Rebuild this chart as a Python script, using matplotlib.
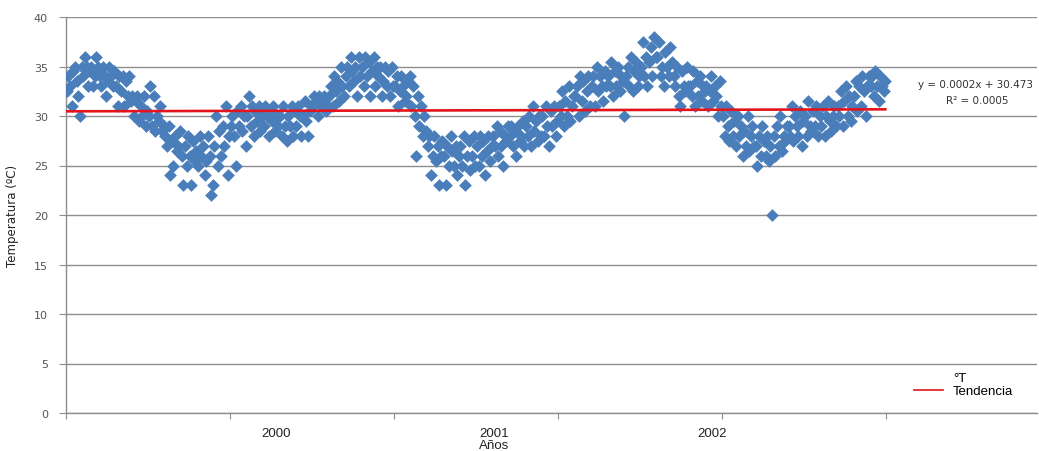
import numpy as np
import matplotlib
matplotlib.use("Agg")
import matplotlib.pyplot as plt
from matplotlib.lines import Line2D

# Daily temperature readings (one value every 2 days)
temp_1999 = [
    32.5, 34, 33, 31, 34.5, 35, 33.5, 32, 30, 35,
    34, 36, 35, 33, 34.5, 35, 33, 34, 36, 35,
    34, 33, 35, 34, 32, 33.5, 35, 34, 33, 34.5,
    33, 31, 34, 32.5, 34, 31, 33.5, 32, 34, 31.5,
    32, 30, 31.5, 32, 29.5, 31, 30, 32, 29, 30.5,
    30, 33, 29, 32, 28.5, 30, 29.5, 31, 28.5, 29,
    28, 27, 29, 24, 27.5, 25, 28, 26.5, 27, 28.5,
    26, 23, 27, 25, 28, 26, 23, 27.5, 25.5, 26.5,
    25, 28, 26, 27, 24, 25.5, 28, 26, 22, 23,
    27, 30, 25, 28.5, 26, 29, 27, 31, 24, 28,
    29, 30, 28, 25, 30.5, 29, 31, 28.5, 30, 27,
    30, 32, 29, 31, 28, 30.5, 29.5, 31, 28.5, 30,
    29, 31, 30, 28, 30.5, 29.5, 31, 28.5, 30, 29,
]
temp_2000 = [
    30, 28, 31, 29, 27.5, 30, 29, 31, 28, 30.5,
    29, 31, 30, 28, 30, 31.5, 29.5, 28, 30.5, 31,
    31, 32, 31.5, 30, 32, 31, 31.5, 32, 30.5, 31,
    32, 33, 31, 34, 32.5, 33.5, 31.5, 35, 33, 32,
    34, 35, 33, 36, 34.5, 33.5, 35, 32, 36, 34,
    35, 33, 36, 34, 35.5, 32, 34.5, 36, 33, 35,
    34, 35, 32, 33.5, 35, 33, 34.5, 32, 35, 33,
    33, 34, 31, 32.5, 34, 33, 31.5, 32, 33.5, 34,
    31, 33, 30, 26, 32, 29, 31, 28, 30, 28.5,
    27, 28, 24, 26, 28, 25.5, 27, 23, 26, 27.5,
    26, 23, 27, 25, 28, 26.5, 25, 27, 24, 26,
    27, 25, 28, 23, 26, 27.5, 24.5, 26, 28, 25,
    27, 25, 28, 26, 27.5, 24, 26.5, 28, 25.5, 27,
]
temp_2001 = [
    28, 27, 29, 26, 28.5, 27, 25, 28, 27.5, 29,
    28, 29, 27, 28.5, 26, 29, 27.5, 28, 29.5, 27,
    29, 28, 30, 27, 31, 28.5, 29.5, 27.5, 30, 28,
    30, 28, 31, 29, 27, 30.5, 29, 31, 28, 29.5,
    31, 30, 32.5, 29, 31.5, 30, 33, 29.5, 31, 32,
    32, 33, 30, 34, 31.5, 33.5, 30.5, 32.5, 34, 31,
    33, 34, 31, 35, 32.5, 34, 33, 31.5, 34.5, 33,
    34, 33, 35.5, 32, 34.5, 33, 35, 32.5, 34, 33.5,
    30, 34, 35, 33, 36, 32.5, 34.5, 35.5, 33, 34,
    35, 37.5, 34, 36, 33, 35.5, 37, 34, 38, 36,
    36, 37.5, 34, 35, 33, 36.5, 35, 34, 37, 35.5,
    34, 33, 35, 32, 31, 34.5, 33, 32.5, 35, 33,
    33, 32, 34.5, 31, 33.5, 32, 34, 31.5, 33, 32.5,
]
temp_2002 = [
    33, 31, 32.5, 34, 31.5, 33, 32, 30, 33.5, 31,
    30, 28, 31, 29, 27.5, 30.5, 28, 29.5, 27, 30,
    28, 29, 26, 28.5, 27, 30, 26.5, 28, 29, 27,
    27, 25, 28, 26, 29, 27.5, 26, 28, 25.5, 27,
    20, 28, 26, 29, 27, 30, 26.5, 28, 27.5, 29,
    29, 28, 31, 27.5, 30, 29, 28, 30.5, 27, 29.5,
    30, 28, 31.5, 29, 28.5, 30.5, 29, 31, 28, 30,
    29, 31, 28, 30, 31.5, 29.5, 28.5, 30, 31, 29,
    31, 30, 32.5, 29, 31.5, 33, 30, 32, 29.5, 31,
    32, 33.5, 30.5, 33, 31, 34, 32.5, 30, 33, 34,
    33, 34, 32, 34.5, 33, 31.5, 34, 33, 32.5, 33.5,
]

temps = np.array(temp_1999 + temp_2000 + temp_2001 + temp_2002, dtype=float)
days = np.arange(len(temps)) * 2 + 1

trend_slope = 0.0002
trend_intercept = 30.473
r_squared = 0.0005

y_ticks = [0, 5, 10, 15, 20, 25, 30, 35, 40]
x_major_ticks = [0, 200, 400, 600, 800, 1000]
year_labels = ["2000", "2001", "2002"]
year_label_pos = [256, 522, 788]

W, H = 1039, 452
fig = plt.figure(figsize=(W / 100, H / 100), dpi=100)
ax = fig.add_axes([66 / W, 1 - 414 / H, (1037 - 66) / W, (414 - 18) / H])
ax.set_xlim(0, 1184)
ax.set_ylim(0, 40)

ax.yaxis.grid(True, color="#8e8e8e", lw=1.0)
ax.set_axisbelow(True)

ax.scatter(days, temps, marker="D", s=42, color="#4a7ebb", linewidths=0, zorder=3)
xt = np.array([days.min(), days.max()], dtype=float)
ax.plot(xt, trend_slope * xt + trend_intercept, color="#e3141c", lw=1.9, zorder=4)

for s in ["top", "right"]:
    ax.spines[s].set_visible(False)
for s in ["left", "bottom"]:
    ax.spines[s].set_color("#8e8e8e")
    ax.spines[s].set_linewidth(1.0)

ax.set_yticks(y_ticks)
ax.set_yticklabels([str(v) for v in y_ticks], fontsize=8, color="#555555",
                   family="DejaVu Sans")
ax.tick_params(axis="y", length=5, color="#8e8e8e", pad=8)

ax.set_xticks(x_major_ticks)
ax.set_xticklabels([])
ax.tick_params(axis="x", which="major", length=4, color="#8e8e8e")
ax.set_xticks(year_label_pos, minor=True)
ax.set_xticklabels(year_labels, minor=True, fontsize=9.5, family="Liberation Sans",
                   color="#222222")
ax.tick_params(axis="x", which="minor", length=0, pad=10)

ax.set_ylabel("Temperatura (ºC)", fontsize=8.5, family="DejaVu Sans", color="#222222")
ax.yaxis.set_label_coords((19 - 66) / 971, 0.5)
ax.set_xlabel("Años", fontsize=9.5, family="Liberation Sans", color="#222222")
ax.xaxis.set_label_coords((494 - 66) / 971, (414 - 440) / 396)

fig.text(976 / W, 1 - 85 / H, f"y = {trend_slope}x + {trend_intercept}",
         ha="center", va="center", fontsize=7.5, family="DejaVu Sans", color="#333333")
fig.text(977 / W, 1 - 101 / H, f"R² = {r_squared}",
         ha="center", va="center", fontsize=7.5, family="DejaVu Sans", color="#333333")

handles = [Line2D([], [], ls="none", marker=None),
           Line2D([], [], color="#e3141c", lw=1.2)]
leg = ax.legend(handles, ["°T", "Tendencia"], loc="lower left",
                bbox_to_anchor=(907 / W, 1 - 405 / H), bbox_transform=fig.transFigure,
                frameon=False, handlelength=2.2, handletextpad=0.8,
                labelspacing=0.1, borderpad=0.0,
                prop={"family": "Liberation Sans", "size": 9.5})

fig.savefig("out.png", dpi=100)
